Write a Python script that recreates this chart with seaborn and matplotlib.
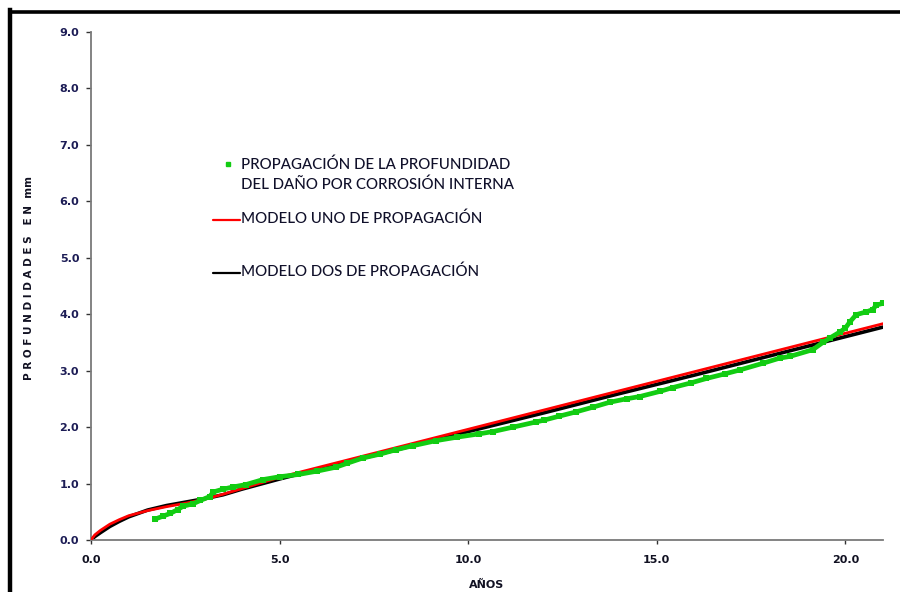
import matplotlib
matplotlib.use("Agg")
import matplotlib.pyplot as plt
from matplotlib.lines import Line2D
import pandas as pd
import seaborn as sns

# Measured corrosion depth (years, mm)
obs_years = [1.70, 1.90, 2.10, 2.30, 2.45, 2.70, 2.90, 3.15, 3.24, 3.50, 3.77, 4.10,
             4.56, 5.00, 5.50, 6.00, 6.50, 6.80, 7.20, 7.66, 8.10, 8.54, 9.16, 9.70,
             10.30, 10.66, 11.20, 11.80, 12.00, 12.40, 12.87, 13.30, 13.76, 14.20,
             14.55, 15.08, 15.43, 15.90, 16.32, 16.80, 17.20, 17.82, 18.26, 18.53,
             19.14, 19.41, 19.60, 19.85, 20.00, 20.12, 20.29, 20.56, 20.73, 20.82, 21.00]
obs_depth = [0.37, 0.42, 0.47, 0.54, 0.60, 0.64, 0.70, 0.77, 0.85, 0.90, 0.94, 0.98,
             1.07, 1.12, 1.16, 1.22, 1.29, 1.36, 1.45, 1.52, 1.60, 1.67, 1.76, 1.82,
             1.88, 1.92, 2.00, 2.09, 2.12, 2.19, 2.27, 2.35, 2.44, 2.50,
             2.54, 2.63, 2.70, 2.78, 2.86, 2.94, 3.01, 3.13, 3.22, 3.25,
             3.37, 3.50, 3.58, 3.68, 3.75, 3.86, 3.99, 4.04, 4.08, 4.16, 4.19]

# Propagation models
model_years = [0, 0.1, 0.25, 0.5, 0.75, 1, 1.5, 2, 2.5, 3, 3.5, 4, 5, 6, 8, 10,
               12, 14, 16, 18, 20, 21]
model_one = [0, 0.09, 0.17, 0.28, 0.36, 0.43, 0.52, 0.59, 0.65, 0.72, 0.81, 0.91,
             1.11, 1.28, 1.62, 1.96, 2.30, 2.64, 2.98, 3.32, 3.66, 3.83]
model_two = [0, 0.06, 0.13, 0.24, 0.33, 0.41, 0.53, 0.61, 0.67, 0.73, 0.80, 0.90,
             1.08, 1.25, 1.58, 1.92, 2.25, 2.59, 2.92, 3.26, 3.60, 3.77]

x_ticks = [0, 5, 10, 15, 20]
y_ticks = [0, 1, 2, 3, 4, 5, 6, 7, 8, 9]

legend_obs = "PROPAGACIÓN DE LA PROFUNDIDAD\nDEL DAÑO POR CORROSIÓN INTERNA"
legend_one = "MODELO UNO DE PROPAGACIÓN"
legend_two = "MODELO DOS DE PROPAGACIÓN"

sns.set_style("white")
plt.rcParams["font.family"] = ["DejaVu Sans"]

GREEN = "#12cc12"
fig = plt.figure(figsize=(9.0, 5.92), dpi=100)
ax = fig.add_axes([91 / 900, 1 - 540 / 592, 792 / 900, 508.3 / 592])

obs = pd.DataFrame({"t": obs_years, "d": obs_depth})
m1 = pd.DataFrame({"t": model_years, "d": model_one})
m2 = pd.DataFrame({"t": model_years, "d": model_two})

sns.lineplot(data=m2, x="t", y="d", ax=ax, color="black", lw=2.6, zorder=2)
sns.lineplot(data=m1, x="t", y="d", ax=ax, color="#ff0000", lw=2.0, zorder=3)
sns.lineplot(data=obs, x="t", y="d", ax=ax, color=GREEN, lw=3.4, marker="s",
             markersize=3.8, markeredgewidth=0, zorder=4)

ax.set_xlim(0, 21)
ax.set_ylim(0, 9)
ax.set_xticks(x_ticks)
ax.set_yticks(y_ticks)
ax.set_xticklabels([f"{v:.1f}" for v in x_ticks], fontsize=8, fontweight="bold",
                   color="#111122")
ax.set_yticklabels([f"{v:.1f}" for v in y_ticks], fontsize=8, fontweight="bold",
                   color="#1c1c55")
for s in ("top", "right"):
    ax.spines[s].set_visible(False)
for s in ("left", "bottom"):
    ax.spines[s].set_color("#7a7a7a")
    ax.spines[s].set_linewidth(1.3)
ax.tick_params(axis="y", direction="out", length=3.5, width=1, color="#333333", pad=5,
               left=True)
ax.tick_params(axis="x", direction="out", length=3, width=1, color="#333333", pad=8,
               bottom=True)
ax.set_xlabel("")
ax.set_ylabel("")

fig.text(487 / 900, 1 - 585 / 592, "AÑOS", ha="center", va="center",
         fontsize=8, fontweight="bold", color="#111122")
fig.text(29 / 900, 1 - 278 / 592, "P R O F U N D I D A D E S   E N  mm",
         rotation=90, ha="center", va="center", fontsize=7.5, fontweight="bold",
         color="#111122")

# Legend entries placed inside the plot area
leg_font = dict(family="Lato", fontsize=10.8, fontweight="medium", color="#10102a",
                va="center", ha="left")
fig.add_artist(Line2D([228 / 900], [1 - 164 / 592], marker="s", markersize=3.5,
                      color=GREEN, lw=0, transform=fig.transFigure))
fig.text(241 / 900, 1 - 175 / 592, legend_obs, linespacing=1.5, **leg_font)
fig.add_artist(Line2D([213 / 900, 240 / 900], [1 - 220 / 592] * 2, color="#ff0000",
                      lw=1.6, transform=fig.transFigure))
fig.text(241 / 900, 1 - 219 / 592, legend_one, **leg_font)
fig.add_artist(Line2D([213 / 900, 240 / 900], [1 - 273 / 592] * 2, color="black",
                      lw=1.6, transform=fig.transFigure))
fig.text(241 / 900, 1 - 272 / 592, legend_two, **leg_font)

# Heavy frame along the top and left edges
fig.add_artist(Line2D([10 / 900, 10 / 900], [0, 1 - 10 / 592], color="black", lw=3.2,
                      transform=fig.transFigure, solid_capstyle="projecting"))
fig.add_artist(Line2D([10 / 900, 1], [1 - 11.5 / 592] * 2, color="black", lw=2.6,
                      transform=fig.transFigure, solid_capstyle="projecting"))

fig.savefig("out.png", dpi=100)
